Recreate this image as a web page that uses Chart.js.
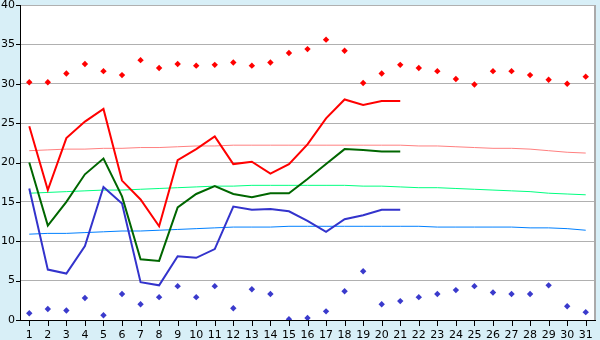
<!DOCTYPE html>
<html lang="en">
<head>
  <meta charset="UTF-8">
  <title>Temperatures</title>
  <script src="https://cdn.jsdelivr.net/npm/chart.js"></script>
  <style>
    html, body { margin: 0; padding: 0; background: #d8eff7; }
    #wrap { width: 600px; height: 340px; }
  </style>
</head>
<body>
  <div id="wrap"><canvas id="myChart" width="600" height="340"></canvas></div>
  <script>
    const days = Array.from({length: 31}, (_, i) => String(i + 1));

    // measured this month (days 1-21)
    const maxTemps = [24.6, 16.5, 23.1, 25.2, 26.8, 17.7, 15.3, 11.9, 20.3, 21.7, 23.3, 19.8, 20.1, 18.6, 19.8, 22.3, 25.6, 28.0, 27.3, 27.8, 27.8];
    const meanTemps = [20.0, 12.0, 15.0, 18.5, 20.5, 15.7, 7.7, 7.5, 14.3, 16.0, 17.0, 16.0, 15.6, 16.1, 16.1, 17.9, 19.8, 21.7, 21.6, 21.4, 21.4];
    const minTemps = [16.7, 6.4, 5.9, 9.4, 16.9, 14.8, 4.8, 4.4, 8.1, 7.9, 9.0, 14.4, 14.0, 14.1, 13.8, 12.6, 11.2, 12.8, 13.3, 14.0, 14.0];

    // normals
    const normalMax = [21.5, 21.6, 21.7, 21.7, 21.8, 21.8, 21.9, 21.9, 22.0, 22.1, 22.1, 22.2, 22.2, 22.2, 22.2, 22.2, 22.2, 22.2, 22.2, 22.2, 22.2, 22.1, 22.1, 22.0, 21.9, 21.8, 21.8, 21.7, 21.5, 21.3, 21.2];
    const normalMean = [16.1, 16.2, 16.3, 16.4, 16.5, 16.5, 16.6, 16.7, 16.8, 16.9, 17.0, 17.0, 17.1, 17.1, 17.1, 17.1, 17.1, 17.1, 17.0, 17.0, 16.9, 16.8, 16.8, 16.7, 16.6, 16.5, 16.4, 16.3, 16.1, 16.0, 15.9];
    const normalMin = [10.9, 11.0, 11.0, 11.1, 11.2, 11.3, 11.3, 11.4, 11.5, 11.6, 11.7, 11.8, 11.8, 11.8, 11.9, 11.9, 11.9, 11.9, 11.9, 11.9, 11.9, 11.9, 11.8, 11.8, 11.8, 11.8, 11.8, 11.7, 11.7, 11.6, 11.4];

    // records
    const recordMax = [30.2, 30.2, 31.3, 32.5, 31.6, 31.1, 33.0, 32.0, 32.5, 32.3, 32.4, 32.7, 32.3, 32.7, 33.9, 34.4, 35.6, 34.2, 30.1, 31.3, 32.4, 32.0, 31.6, 30.6, 29.9, 31.6, 31.6, 31.1, 30.5, 30.0, 30.9];
    const recordMin = [0.85, 1.4, 1.2, 2.8, 0.6, 3.3, 2.0, 2.9, 4.3, 2.9, 4.3, 1.5, 3.9, 3.3, 0.1, 0.25, 1.1, 3.65, 6.2, 2.0, 2.4, 2.9, 3.3, 3.8, 4.3, 3.5, 3.3, 3.3, 4.4, 1.75, 1.0];

    const yTicks = [0, 5, 10, 15, 20, 25, 30, 35, 40];

    const frame = {
      id: 'frame',
      beforeDraw(chart) {
        const {ctx, chartArea: a} = chart;
        ctx.save();
        ctx.fillStyle = '#d8eff7';
        ctx.fillRect(0, 0, chart.width, chart.height);
        ctx.fillStyle = '#ffffff';
        ctx.fillRect(a.left, a.top, a.right - a.left, a.bottom - a.top);
        ctx.restore();
      },
      afterDraw(chart) {
        const {ctx, chartArea: a} = chart;
        const x = chart.scales.x, y = chart.scales.y;
        ctx.save();
        ctx.strokeStyle = '#aaaaaa';
        ctx.lineWidth = 2;
        ctx.beginPath();
        ctx.moveTo(a.right, a.top);
        ctx.lineTo(a.right, a.bottom);
        ctx.stroke();
        ctx.strokeStyle = '#000000';
        ctx.lineWidth = 1;
        ctx.beginPath();
        y.ticks.forEach((t, i) => {
          const py = Math.round(y.getPixelForTick(i)) + 0.5;
          ctx.moveTo(a.left - 4, py);
          ctx.lineTo(a.left, py);
        });
        x.ticks.forEach((t, i) => {
          const px = Math.round(x.getPixelForTick(i)) + 0.5;
          ctx.moveTo(px, a.bottom);
          ctx.lineTo(px, a.bottom + 6);
        });
        ctx.stroke();
        ctx.restore();
      }
    };

    const ctx = document.getElementById('myChart').getContext('2d');
    new Chart(ctx, {
      type: 'line',
      data: {
        labels: days,
        datasets: [
          { label: 'Max', data: maxTemps, borderColor: '#ff0000', borderWidth: 2, pointRadius: 0, tension: 0 },
          { label: 'Mean', data: meanTemps, borderColor: '#006600', borderWidth: 2, pointRadius: 0, tension: 0 },
          { label: 'Min', data: minTemps, borderColor: '#3333cc', borderWidth: 2, pointRadius: 0, tension: 0 },
          { label: 'Normal max', data: normalMax, borderColor: '#ff8080', borderWidth: 1, pointRadius: 0, tension: 0 },
          { label: 'Normal mean', data: normalMean, borderColor: '#00ff80', borderWidth: 1, pointRadius: 0, tension: 0 },
          { label: 'Normal min', data: normalMin, borderColor: '#0080ff', borderWidth: 1, pointRadius: 0, tension: 0 },
          { label: 'Record max', data: recordMax, showLine: false, pointStyle: 'rectRot', pointRadius: 3.2, borderWidth: 0, backgroundColor: '#ff0000', borderColor: '#ff0000' },
          { label: 'Record min', data: recordMin, showLine: false, pointStyle: 'rectRot', pointRadius: 3.2, borderWidth: 0, backgroundColor: '#3a3acc', borderColor: '#3a3acc' }
        ]
      },
      options: {
        responsive: false,
        animation: false,
        layout: { padding: { top: 5, right: 5, left: 0, bottom: 0 } },
        plugins: { legend: { display: false }, tooltip: { enabled: false } },
        scales: {
          x: {
            offset: true,
            grid: { display: false, drawTicks: false },
            border: { color: '#000000' },
            ticks: { color: '#000', padding: 9, font: { family: 'DejaVu Sans', size: 11 }, maxRotation: 0, autoSkip: false },
            afterFit(s) { s.height = 20; s.paddingLeft = 0; s.paddingRight = 0; }
          },
          y: {
            min: 0,
            max: 40,
            afterBuildTicks(s) { s.ticks = yTicks.map(v => ({ value: v })); },
            grid: { color: '#b0b0b0', drawTicks: false },
            border: { color: '#000000' },
            ticks: { color: '#000', padding: 5, font: { family: 'DejaVu Sans', size: 11 } },
            afterFit(s) { s.width = 20; s.paddingTop = 0; s.paddingBottom = 0; }
          }
        }
      },
      plugins: [frame]
    });
  </script>
</body>
</html>
